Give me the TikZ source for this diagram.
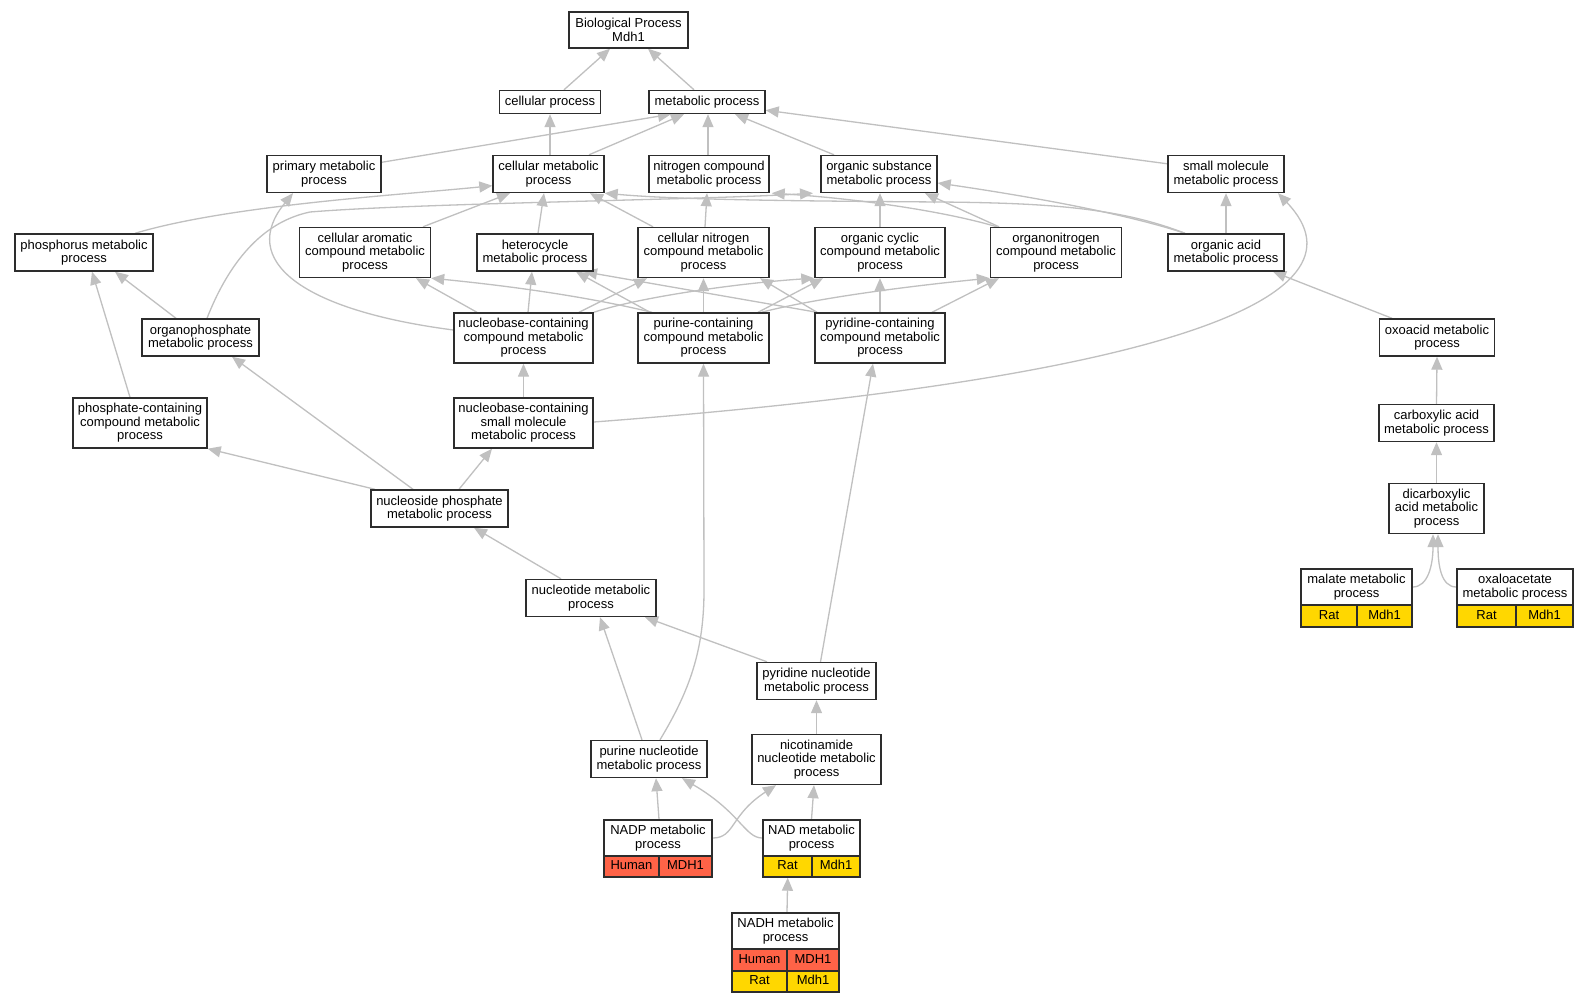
\documentclass[tikz,border=0pt]{standalone}
\usepackage{fontspec}
\setmainfont{Liberation Sans}
\usetikzlibrary{arrows.meta,backgrounds}
\definecolor{tomatoc}{RGB}{255,99,71}
\definecolor{goldc}{RGB}{255,215,0}
\definecolor{edgec}{RGB}{192,192,192}
\definecolor{borderc}{RGB}{45,45,45}
\begin{document}
\begin{tikzpicture}[x=1pt,y=-1pt,
  box/.style={draw=borderc, line width=1.4pt, fill=white, inner sep=0pt, align=center, font=\fontsize{13}{13.5}\selectfont},
  sz/.style 2 args={minimum width=#1pt, minimum height=#2pt},
  cellT/.style={box, fill=tomatoc, text height=9.4pt, text depth=2.8pt},
  cellG/.style={box, fill=goldc, text height=9.4pt, text depth=2.8pt},
  lnk/.style={draw=edgec, line width=1.3pt, -{Triangle[length=13pt,width=11pt]}}
]
\useasboundingbox (0,0) rectangle (1589,1003);
% nodes
\node[box, sz={119}{36}] (bp) at (628.5,30) {Biological Process\\Mdh1};
\node[box, sz={101}{23}] (cp) at (550,102) {cellular process};
\node[box, sz={116}{23}] (mp) at (707,102) {metabolic process};
\node[box, sz={114}{37}] (prim) at (324,174) {primary metabolic\\process};
\node[box, sz={111}{37}] (cmp) at (548.5,174) {cellular metabolic\\process};
\node[box, sz={120}{37}] (ncmp) at (709,174) {nitrogen compound\\metabolic process};
\node[box, sz={116}{37}] (osmp) at (879,174) {organic substance\\metabolic process};
\node[box, sz={116}{37}] (smmp) at (1226,174) {small molecule\\metabolic process};
\node[box, sz={138}{37}] (phos) at (84,252.5) {phosphorus metabolic\\process};
\node[box, sz={131}{50}] (camp) at (365,252.5) {cellular aromatic\\compound metabolic\\process};
\node[box, sz={116}{37}] (hetero) at (535,252.5) {heterocycle\\metabolic process};
\node[box, sz={131}{50}] (cncmp) at (703.5,252.5) {cellular nitrogen\\compound metabolic\\process};
\node[box, sz={130}{50}] (occmp) at (880,252.5) {organic cyclic\\compound metabolic\\process};
\node[box, sz={131}{50}] (onmp) at (1056,252.5) {organonitrogen\\compound metabolic\\process};
\node[box, sz={116}{37}] (oamp) at (1226,252.5) {organic acid\\metabolic process};
\node[box, sz={117}{37}] (orgp) at (200.5,337.5) {organophosphate\\metabolic process};
\node[box, sz={139}{50}] (nbc) at (523.5,338) {nucleobase-containing\\compound metabolic\\process};
\node[box, sz={131}{50}] (purc) at (703.5,338) {purine-containing\\compound metabolic\\process};
\node[box, sz={130}{50}] (pyrc) at (880,338) {pyridine-containing\\compound metabolic\\process};
\node[box, sz={115}{37}] (oxo) at (1437,337.5) {oxoacid metabolic\\process};
\node[box, sz={134}{50}] (phc) at (140,423) {phosphate-containing\\compound metabolic\\process};
\node[box, sz={139}{50}] (nbsm) at (523.5,423) {nucleobase-containing\\small molecule\\metabolic process};
\node[box, sz={115}{37}] (carb) at (1436.5,423) {carboxylic acid\\metabolic process};
\node[box, sz={137}{37}] (nsp) at (439.5,508.5) {nucleoside phosphate\\metabolic process};
\node[box, sz={95}{50}] (dicarb) at (1436.5,508.5) {dicarboxylic\\acid metabolic\\process};
\node[box, sz={130}{37}] (nucl) at (591,598) {nucleotide metabolic\\process};
\node[box, sz={119}{37}] (pyrn) at (816.5,681) {pyridine nucleotide\\metabolic process};
\node[box, sz={116}{37}] (purn) at (649,759) {purine nucleotide\\metabolic process};
\node[box, sz={129}{50}] (nicn) at (816.5,759.5) {nicotinamide\\nucleotide metabolic\\process};
% tables
\node[box, sz={111}{36}] (malate) at (1356.5,587) {malate metabolic\\process};
\node[cellG, sz={56}{22}] (malA) at (1329,616) {Rat};
\node[cellG, sz={55}{22}] (malB) at (1384.5,616) {Mdh1};
\node[box, sz={116}{36}] (oxal) at (1515,587) {oxaloacetate\\metabolic process};
\node[cellG, sz={59}{22}] (oxA) at (1486.5,616) {Rat};
\node[cellG, sz={57}{22}] (oxB) at (1544.5,616) {Mdh1};
\node[box, sz={108}{36}] (nadp) at (658,838) {NADP metabolic\\process};
\node[cellT, sz={55}{21}] (nadpA) at (631.5,866.5) {Human};
\node[cellT, sz={53}{21}] (nadpB) at (685.5,866.5) {MDH1};
\node[box, sz={97}{36}] (nad) at (811.5,838) {NAD metabolic\\process};
\node[cellG, sz={49}{21}] (nadA) at (787.5,866.5) {Rat};
\node[cellG, sz={48}{21}] (nadB) at (836,866.5) {Mdh1};
\node[box, sz={107}{36}] (nadh) at (785.5,931) {NADH metabolic\\process};
\node[cellT, sz={55}{22}] (nadhA) at (759.5,960) {Human};
\node[cellT, sz={52}{22}] (nadhB) at (813,960) {MDH1};
\node[cellG, sz={55}{21}] (nadhC) at (759.5,981.5) {Rat};
\node[cellG, sz={52}{21}] (nadhD) at (813,981.5) {Mdh1};
% edges
\begin{pgfonlayer}{background}
\fill[white] (0,0) rectangle (1589,1003);
\draw[lnk] ([xshift=14pt]cp.north) -- ([xshift=-18.5pt]bp.south);
\draw[lnk] ([xshift=-13pt]mp.north) -- ([xshift=19.5pt]bp.south);
\draw[lnk] ([yshift=-7.5pt]prim.north east) -- ([xshift=-36pt]mp.south);
\draw[lnk] ([xshift=1.5pt]cmp.north) -- (cp.south);
\draw[lnk] ([xshift=40.5pt]cmp.north) -- ([xshift=-23pt]mp.south);
\draw[lnk] ([xshift=-1pt]ncmp.north) -- ([xshift=1pt]mp.south);
\draw[lnk] ([xshift=-45pt]osmp.north) -- ([xshift=28pt]mp.south);
\draw[lnk] ([yshift=-9pt]smmp.north west) -- ([yshift=4pt]mp.south east);
\draw[lnk] ([xshift=51pt]phos.north) .. controls (230,205) and (400,195) .. ([yshift=7.5pt]cmp.south west);
\draw[lnk] ([xshift=6.5pt]orgp.north) .. controls (222,280) and (252,224) .. (310,212) .. controls (420,203) and (700,200) .. ([xshift=-66pt]osmp.south);
\draw[lnk] ([xshift=58pt]camp.north) -- ([xshift=-38.5pt]cmp.south);
\draw[lnk] ([xshift=3pt]hetero.north) -- ([xshift=-4.5pt]cmp.south);
\draw[lnk] ([xshift=-50.5pt]cncmp.north) -- ([xshift=41.5pt]cmp.south);
\draw[lnk] ([xshift=1.5pt]cncmp.north) -- ([xshift=-2pt]ncmp.south);
\draw[lnk] (occmp.north) -- ([xshift=1pt]osmp.south);
\draw[lnk] ([xshift=-59pt]onmp.north) .. controls (940,210) and (850,198) .. ([xshift=2pt]ncmp.south east);
\draw[lnk] ([xshift=-57pt]onmp.north) -- ([xshift=46pt]osmp.south);
\draw[lnk] ([xshift=-41pt]oamp.north) .. controls (1120,212) and (1020,195) .. ([yshift=-9pt]osmp.east);
\draw[lnk] ([xshift=-41pt]oamp.north) .. controls (1120,208) and (1050,203) .. (940,202) .. controls (800,201) and (680,200) .. (cmp.south east);
\draw[lnk] (oamp.north) -- (smmp.south);
\draw[lnk] ([xshift=-45pt]oxo.north) -- ([xshift=47pt]oamp.south);
\draw[lnk] ([xshift=-24.5pt]orgp.north) -- ([xshift=31pt]phos.south);
\draw[lnk] ([xshift=-10pt]phc.north) -- ([xshift=8pt]phos.south);
\draw[lnk] ([xshift=-46.5pt]nbc.north) -- ([xshift=51pt]camp.south);
\draw[lnk] ([xshift=4.5pt]nbc.north) -- ([xshift=-3pt]hetero.south);
\draw[lnk] ([xshift=55.5pt]nbc.north) -- ([xshift=-56.5pt]cncmp.south);
\draw[lnk] (nbc.north east) .. controls (640,297) and (740,283) .. (occmp.south west);
\draw[lnk] ([yshift=8pt]nbc.west) .. controls (300,310) and (238,260) .. ([xshift=-31pt]prim.south);
\draw[lnk] ([xshift=-51.5pt]purc.north) .. controls (580,295) and (500,285) .. (camp.south east);
\draw[lnk] ([xshift=-53.5pt]purc.north) -- ([xshift=41pt]hetero.south);
\draw[lnk] (purc.north) -- (cncmp.south);
\draw[lnk] ([xshift=54.5pt]purc.north) -- ([xshift=-57pt]occmp.south);
\draw[lnk] ([xshift=58pt]purc.north) .. controls (820,297) and (920,285) .. (onmp.south west);
\draw[lnk] ([xshift=-63pt]pyrc.north) -- ([xshift=49pt]hetero.south);
\draw[lnk] ([xshift=-63pt]pyrc.north) -- ([xshift=56.5pt]cncmp.south);
\draw[lnk] (pyrc.north) -- (occmp.south);
\draw[lnk] ([xshift=52pt]pyrc.north) -- ([xshift=-57pt]onmp.south);
\draw[lnk] (nbsm.north) -- (nbc.south);
\draw[lnk] ([yshift=1pt]nbsm.east) .. controls (1150,380) and (1380,300) .. ([xshift=52pt]smmp.south);
\draw[lnk] ([xshift=-64.5pt]nsp.north) -- (phc.south east);
\draw[lnk] ([xshift=-26.5pt]nsp.north) -- ([xshift=31.5pt]orgp.south);
\draw[lnk] ([xshift=19.5pt]nsp.north) -- ([xshift=-31.5pt]nbsm.south);
\draw[lnk] ([xshift=-30pt]nucl.north) -- ([xshift=34.5pt]nsp.south);
\draw[lnk] ([xshift=-7pt]purn.north) -- ([xshift=9pt]nucl.south);
\draw[lnk] ([xshift=11pt]purn.north) .. controls (690,690) and (704,650) .. (704,590) -- (purc.south);
\draw[lnk] ([xshift=-49.5pt]pyrn.north) -- ([xshift=54pt]nucl.south);
\draw[lnk] ([xshift=4pt]pyrn.north) -- ([xshift=-7pt]pyrc.south);
\draw[lnk] (nicn.north) -- (pyrn.south);
\draw[lnk] ([xshift=1pt]nadp.north) -- ([xshift=7pt]purn.south);
\draw[lnk] (nadp.east) .. controls (735,838) and (730,815) .. ([xshift=-40.5pt]nicn.south);
\draw[lnk] (nad.north) -- ([xshift=-2.5pt]nicn.south);
\draw[lnk] (nad.west) .. controls (745,838) and (740,812) .. ([xshift=33pt]purn.south);
\draw[lnk] ([xshift=1.5pt]nadh.north) -- ([xshift=-25pt]nadA.south east);
\draw[lnk] (carb.north) -- (oxo.south);
\draw[lnk] (dicarb.north) -- (carb.south);
\draw[lnk] (malate.east) .. controls (1428,587) and (1433,565) .. ([xshift=-3.5pt]dicarb.south);
\draw[lnk] (oxal.west) .. controls (1441,587) and (1438,565) .. ([xshift=1.5pt]dicarb.south);
\end{pgfonlayer}
\end{tikzpicture}
\end{document}
